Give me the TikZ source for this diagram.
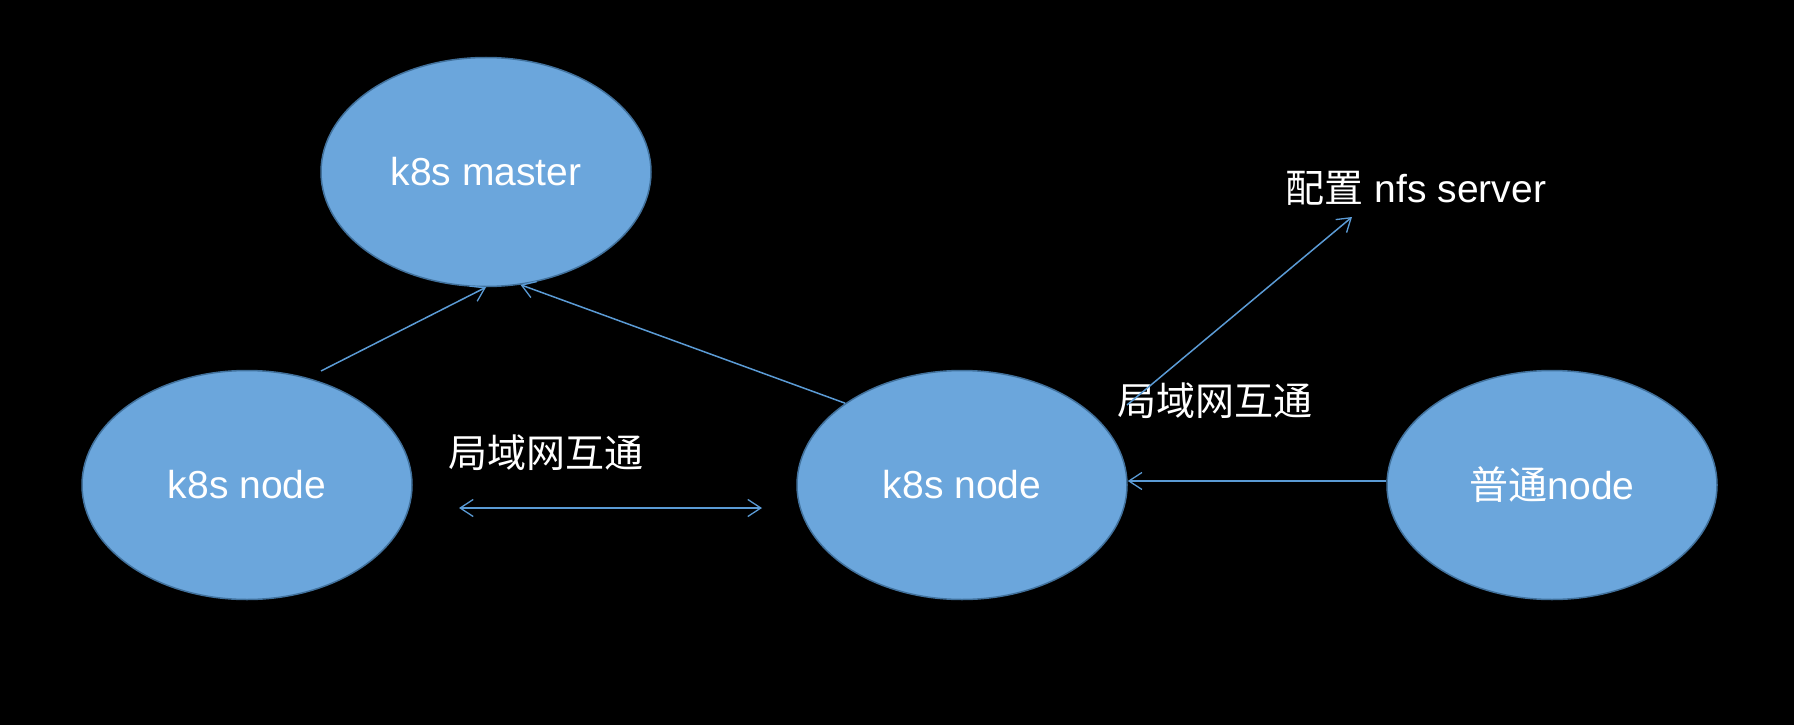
\documentclass[tikz,border=0pt]{standalone}
\usepackage{fontspec}
\setmainfont{Liberation Sans}
\newfontfamily\cjk{Noto Sans CJK SC}
\usetikzlibrary{shapes.geometric,arrows.meta}
\definecolor{efill}{RGB}{107,166,220}
\definecolor{eline}{RGB}{65,113,156}
\definecolor{aline}{RGB}{91,155,213}
\tikzset{
  x=1pt,y=-1pt,
  ell/.style={ellipse,draw=eline,line width=1.5pt,fill=efill,minimum width=330pt,minimum height=229pt,inner sep=0pt,text=white,font=\fontsize{39}{46}\selectfont},
  lbl/.style={text=white,inner sep=0pt,font=\fontsize{39}{46}\selectfont},
  arr/.style={draw=aline,line width=1.5pt,-{Straight Barb[length=13pt,width=17pt,line width=1.3pt]}},
  darr/.style={draw=aline,line width=1.5pt,{Straight Barb[length=13pt,width=17pt,line width=1.3pt]}-{Straight Barb[length=13pt,width=17pt,line width=1.3pt]}}
}
\begin{document}
\begin{tikzpicture}
\fill[black] (0,0) rectangle (1794,725);
\useasboundingbox (0,0) rectangle (1794,725);
\node[ell] (m) at (486,172) {k8s master};
\node[ell] (l) at (247,485) {k8s node};
\node[ell] (c) at (962,485) {k8s node};
\node[ell] (p) at (1552,485) {{\cjk 普通}node};
\node[lbl] (lanl) at (546,453) {\cjk 局域网互通};
\node[lbl] (lanr) at (1215,401) {\cjk 局域网互通};
\node[lbl] (nfs) at (1416,188) {{\cjk 配置} nfs server};
\coordinate (ls) at (321,371);
\coordinate (na) at (1127,405);
\coordinate (nb) at (1352,217);
\coordinate (da) at (459,508);
\coordinate (db) at (762,508);
\draw[arr] (ls) -- (m.south);
\draw[arr] (c.145) -- (m.287);
\draw[arr] (na) -- (nb);
\draw[darr] (da) -- (db);
\draw[arr] ([yshift=4pt]p.west) -- ([yshift=4pt]c.east);
\end{tikzpicture}
\end{document}
